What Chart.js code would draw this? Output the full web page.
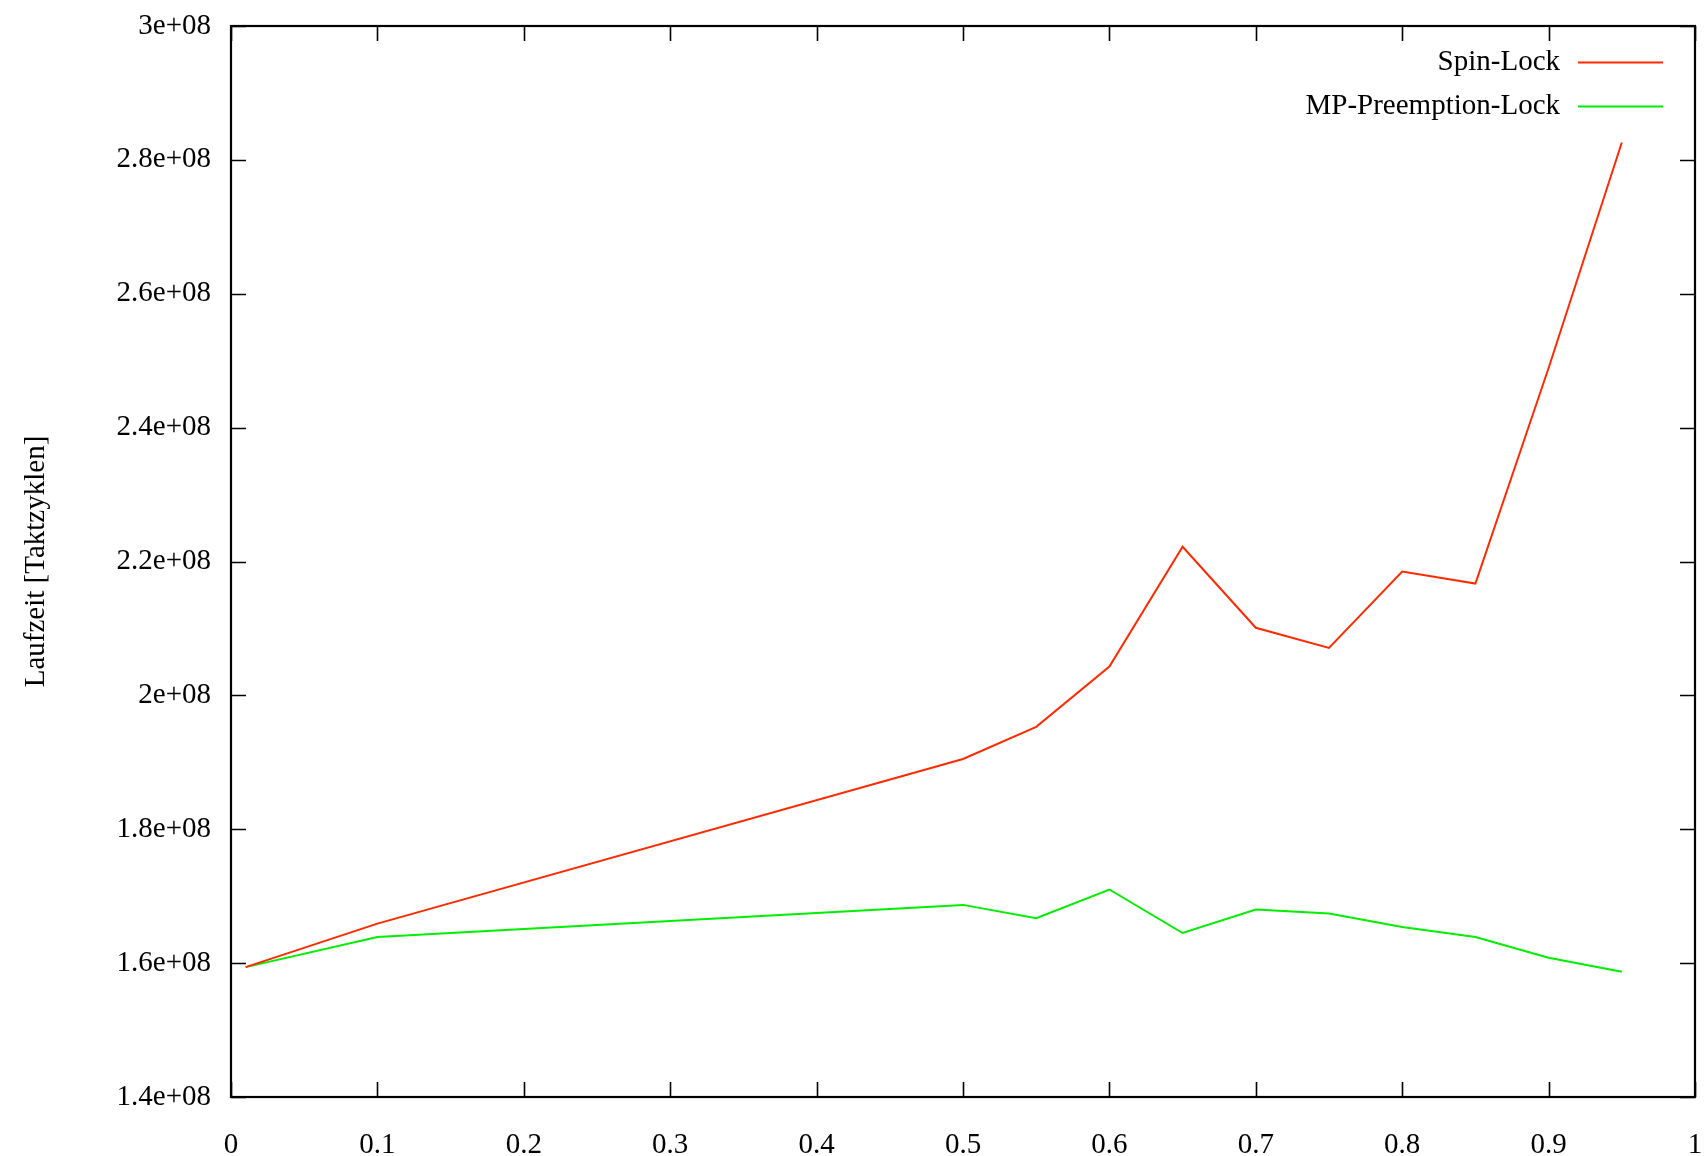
<!DOCTYPE html>
<html lang="de">
<head>
    <meta charset="UTF-8">
    <title>Laufzeit Spin-Lock vs MP-Preemption-Lock</title>
    <script src="https://cdn.jsdelivr.net/npm/chart.js"></script>
    <style>
        html, body { margin: 0; padding: 0; background: #fff; }
        #wrap { width: 1706px; height: 1156px; }
    </style>
</head>
<body>
    <div id="wrap">
        <canvas id="lockChart" width="1706" height="1156"></canvas>
    </div>

    <script>
        // data
        const xValues = [0.01, 0.1, 0.5, 0.55, 0.6, 0.65, 0.7, 0.75, 0.8, 0.85, 0.9, 0.95];
        const spinLock = [1.594e8, 1.659e8, 1.905e8, 1.953e8, 2.043e8, 2.222e8, 2.101e8, 2.071e8, 2.185e8, 2.167e8, 2.489e8, 2.826e8];
        const mpPreemptionLock = [1.594e8, 1.639e8, 1.687e8, 1.667e8, 1.710e8, 1.645e8, 1.680e8, 1.674e8, 1.654e8, 1.639e8, 1.608e8, 1.587e8];
        const seriesNames = ['Spin-Lock', 'MP-Preemption-Lock'];
        const yAxisTitle = 'Laufzeit [Taktzyklen]';

        const FONT = "'Liberation Serif', 'Times New Roman', serif";
        const FONT_SIZE = 29;
        const toPoints = (ys) => xValues.map((x, i) => ({ x: x, y: ys[i] }));

        // gnuplot look: frame, inward ticks on every side, legend text left of the sample line
        const gnuplotFrame = {
            id: 'gnuplotFrame',
            afterDraw(chart) {
                const ctx = chart.ctx;
                const a = chart.chartArea;
                const xs = chart.scales.x, ys = chart.scales.y;
                const tl = 15;
                ctx.save();
                ctx.strokeStyle = '#000';
                ctx.lineWidth = 1.6;
                ctx.beginPath();
                xs.ticks.forEach(t => {
                    const px = Math.round(xs.getPixelForValue(t.value)) + 0.5;
                    ctx.moveTo(px, a.bottom); ctx.lineTo(px, a.bottom - tl);
                    ctx.moveTo(px, a.top); ctx.lineTo(px, a.top + tl);
                });
                ys.ticks.forEach(t => {
                    const py = Math.round(ys.getPixelForValue(t.value)) + 0.5;
                    ctx.moveTo(a.left, py); ctx.lineTo(a.left + tl, py);
                    ctx.moveTo(a.right, py); ctx.lineTo(a.right - tl, py);
                });
                ctx.stroke();
                ctx.lineWidth = 2.2;
                ctx.strokeRect(a.left, a.top, a.right - a.left, a.bottom - a.top);

                // legend
                ctx.font = FONT_SIZE + 'px ' + FONT;
                ctx.textAlign = 'right';
                ctx.textBaseline = 'middle';
                chart.data.datasets.forEach((ds, i) => {
                    const y = 62 + i * 44;
                    ctx.fillStyle = '#000';
                    ctx.fillText(ds.label, 1560, y);
                    ctx.strokeStyle = ds.borderColor;
                    ctx.lineWidth = 2;
                    ctx.beginPath();
                    ctx.moveTo(1578, y + 0.5);
                    ctx.lineTo(1663, y + 0.5);
                    ctx.stroke();
                });
                ctx.restore();
            }
        };

        const ctx = document.getElementById('lockChart').getContext('2d');
        const lockChart = new Chart(ctx, {
            type: 'line',
            data: {
                datasets: [{
                    label: seriesNames[0],
                    data: toPoints(spinLock),
                    borderColor: '#ff2a00',
                    borderWidth: 2,
                    pointRadius: 0,
                    tension: 0
                }, {
                    label: seriesNames[1],
                    data: toPoints(mpPreemptionLock),
                    borderColor: '#00ee00',
                    borderWidth: 2,
                    pointRadius: 0,
                    tension: 0
                }]
            },
            options: {
                responsive: false,
                animation: false,
                layout: { padding: { top: 26, right: 11, left: 0, bottom: 0 } },
                plugins: {
                    legend: { display: false },
                    tooltip: { enabled: false }
                },
                scales: {
                    x: {
                        type: 'linear',
                        min: 0,
                        max: 1,
                        grid: { display: false },
                        border: { display: false },
                        ticks: {
                            stepSize: 0.1,
                            padding: 23,
                            color: '#000',
                            font: { family: FONT, size: FONT_SIZE },
                            maxRotation: 0,
                            callback: (v) => String(Math.round(v * 10) / 10)
                        },
                        afterFit: (scale) => {
                            scale.height = 59;
                            scale.paddingLeft = 0;
                            scale.paddingRight = 0;
                        }
                    },
                    y: {
                        min: 1.4e8,
                        max: 3e8,
                        grid: { display: false },
                        border: { display: false },
                        ticks: {
                            stepSize: 2e7,
                            padding: 12,
                            color: '#000',
                            font: { family: FONT, size: FONT_SIZE },
                            callback: (v) => String(Math.round(v / 1e7) / 10) + 'e+08'
                        },
                        title: {
                            display: true,
                            text: yAxisTitle,
                            color: '#000',
                            font: { family: FONT, size: FONT_SIZE },
                            padding: { top: 19, bottom: 0 }
                        },
                        afterFit: (scale) => {
                            scale.width = 231;
                            scale.paddingTop = 0;
                            scale.paddingBottom = 0;
                        }
                    }
                }
            },
            plugins: [gnuplotFrame]
        });
    </script>
</body>
</html>
